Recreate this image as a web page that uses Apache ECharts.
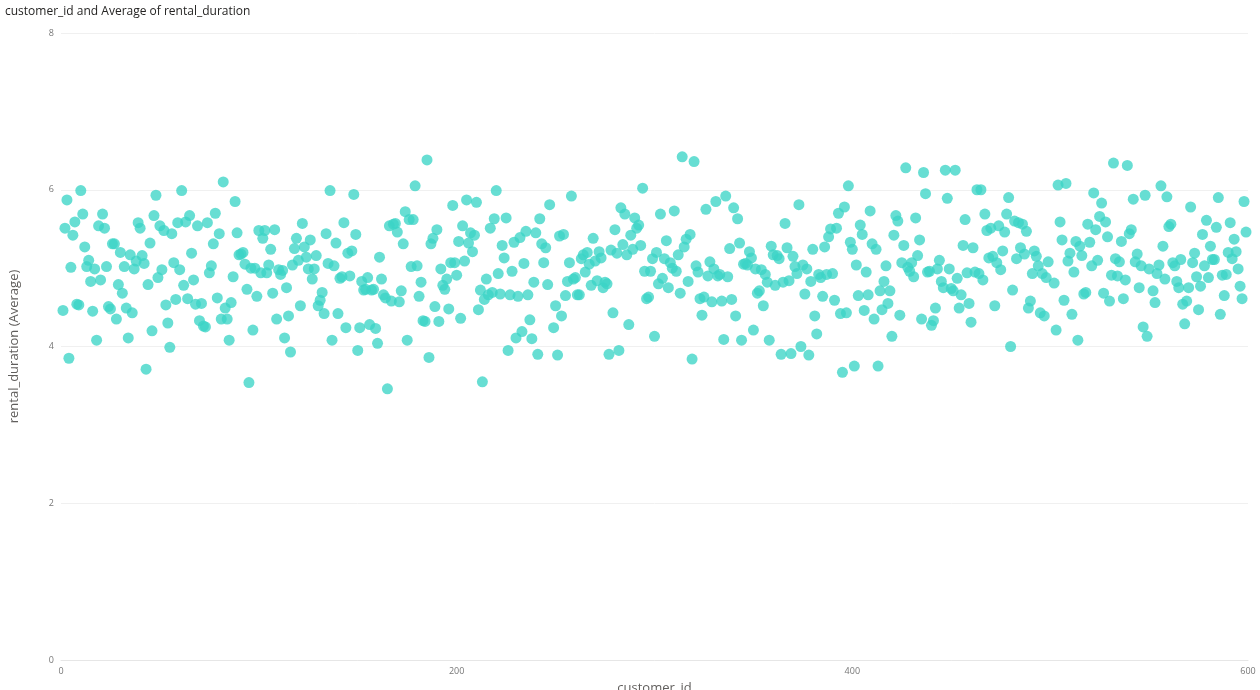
<!DOCTYPE html>
<html><head><meta charset="utf-8">
<script src="https://cdn.jsdelivr.net/npm/echarts@6/dist/echarts.min.js"></script>
<style>html,body{margin:0;padding:0;background:#fff}#c{width:1260px;height:690px}</style>
</head><body><div id="c"></div>
<script>
const chartTitle = 'customer_id and Average of rental_duration';
const xAxisName = 'customer_id';
const yAxisName = 'rental_duration (Average)';
const firstCustomerId = 1;
// Average rental_duration per customer_id (index 0 = customer 1); null = not readable
const avgRentalDuration = [
 4.46,5.51,5.87,3.85,5.01,5.42,5.59,4.54,4.53,5.99,
 5.69,5.27,5.02,5.10,4.83,4.45,4.99,4.08,5.54,4.85,
 5.69,5.51,5.02,4.51,4.48,5.31,5.31,4.35,4.79,5.20,
 4.68,5.02,4.49,4.11,5.17,4.43,4.99,5.09,5.58,5.51,
 5.16,5.06,3.71,4.79,5.32,4.20,5.67,5.93,4.88,
 5.54,4.98,5.48,4.53,4.30,3.99,5.44,5.07,4.60,5.58,
 4.98,5.99,4.78,5.59,4.61,5.67,5.19,4.85,4.54,5.54,
 4.33,4.55,4.26,4.25,5.58,4.94,5.03,5.31,5.70,4.62,
 5.44,4.35,6.10,4.49,4.35,4.08,4.56,4.89,5.85,5.45,
 5.17,5.18,5.20,5.05,4.73,3.54,5.00,4.21,
 5.00,4.64,5.48,4.94,5.38,5.48,4.94,5.04,5.24,4.68,
 5.49,4.35,4.98,4.92,4.97,4.11,4.75,4.39,3.93,5.04,
 5.25,5.38,5.10,4.52,5.57,5.27,5.14,4.99,5.36,4.86,
 4.99,5.16,4.52,4.59,4.69,4.42,5.44,5.06,5.99,4.08,
 5.03,5.32,4.42,4.87,4.89,5.58,4.24,5.19,4.90,5.22,
 5.94,
 5.43,3.95,4.24,4.83,4.72,4.73,4.88,4.28,4.72,4.73,
 4.23,4.04,5.14,4.86,4.66,4.62,3.46,5.54,4.58,5.56,
 5.57,5.46,4.57,4.71,5.31,5.72,4.08,5.62,5.02,5.62,
 6.05,5.03,4.64,4.82,4.33,4.32,6.38,3.86,5.31,5.38,
 4.51,5.49,4.32,4.99,4.78,4.73,4.86,4.48,5.07,
 5.80,5.07,4.91,5.34,4.36,5.54,5.09,5.87,5.32,5.45,
 5.21,5.42,5.84,4.47,4.72,3.55,4.60,4.86,4.66,5.51,
 4.69,5.63,5.99,4.93,4.67,5.29,5.13,5.64,3.95,4.66,
 4.96,5.33,4.11,4.64,5.39,4.19,5.06,5.47,4.66,4.34,
 4.10,4.82,5.45,3.90,5.63,5.31,5.07,5.26,4.79,5.81,
 null,
 4.24,4.52,3.89,5.41,4.39,5.43,4.65,4.83,5.07,5.92,
 4.86,4.88,4.66,4.66,5.12,5.17,4.95,5.20,5.05,4.78,
 5.38,5.09,4.84,5.21,5.13,4.75,4.82,4.80,3.90,5.23,
 4.43,5.49,5.19,3.95,5.77,5.30,5.69,5.17,4.28,5.42,
 5.24,5.64,5.51,5.55,5.29,6.02,4.96,4.61,4.63,4.96,
 5.12,4.13,5.20,4.80,5.69,4.87,5.12,5.35,4.75,5.07,
 5.00,5.73,4.96,5.17,4.68,6.42,5.27,5.37,4.83,5.43,
 3.84,6.36,5.03,4.95,4.61,4.40,4.63,5.75,4.90,5.08,
 4.57,4.99,5.85,4.90,4.92,4.58,4.09,5.92,4.89,5.25,
 4.60,5.77,4.39,5.63,5.32,4.08,5.05,5.06,5.04,5.21,
 5.13,
 4.21,4.99,4.68,4.71,4.98,4.52,4.92,4.82,4.08,5.28,
 5.17,4.78,5.16,5.12,3.90,4.82,5.57,5.26,4.84,3.91,
 5.15,5.02,4.93,5.81,4.00,5.04,4.67,4.99,3.89,4.83,
 5.24,4.39,4.16,4.92,4.88,4.64,5.27,4.92,5.40,5.50,
 4.93,4.59,5.51,5.70,4.42,3.67,5.78,4.43,6.05,5.33,
 5.24,
 3.75,5.04,4.65,5.55,5.43,4.46,4.95,4.66,5.73,5.31,
 4.35,5.24,3.75,4.71,4.47,4.83,5.03,4.55,4.71,4.13,
 5.42,5.67,5.60,4.40,5.07,5.29,6.28,5.01,4.96,5.07,
 4.89,5.64,5.16,5.36,4.35,6.22,5.95,4.95,4.96,4.27,
 4.33,4.49,4.99,5.10,4.83,4.75,6.25,5.89,4.99,4.74,
 4.71,6.25,4.87,4.49,4.66,5.29,5.62,4.94,4.55,4.31,
 5.26,4.95,6.00,4.93,6.00,4.85,5.69,5.48,5.13,5.51,
 5.15,4.52,5.07,5.54,4.98,5.22,5.46,5.69,5.90,4.00,
 4.72,5.60,5.12,5.58,5.26,5.56,5.18,5.47,4.49,4.58,
 4.93,5.22,5.15,5.03,4.43,4.93,4.39,4.88,5.08,
 null,null,
 4.81,4.21,6.06,5.59,5.36,4.59,6.08,5.09,5.19,4.41,
 4.95,5.34,4.08,5.28,5.16,4.67,4.69,5.56,5.33,5.03,
 5.96,5.49,5.10,5.66,5.83,4.68,5.59,5.40,4.58,4.91,
 6.34,5.12,4.90,5.08,5.34,4.61,4.85,6.31,5.44,5.49,
 5.88,5.08,5.18,4.75,5.03,4.25,5.93,4.13,4.99,
 null,
 4.71,4.56,4.93,5.04,6.05,5.28,4.86,5.91,5.53,5.56,
 5.07,5.03,4.83,4.75,5.11,4.54,4.29,4.58,4.75,5.78,
 5.07,5.19,4.89,4.47,4.77,5.43,5.03,5.61,4.88,5.28,
 5.11,5.11,5.52,5.90,4.41,4.91,4.65,4.92,5.20,5.58,
 5.12,5.37,5.21,4.99,4.77,4.61,5.85,5.46
];
const xMin = 0, xMax = 600, xStep = 200;
const yMin = 0, yMax = 8, yStep = 2;

const points = [];
avgRentalDuration.forEach((v, i) => { if (v !== null) points.push([firstCustomerId + i, v]); });

const chart = echarts.init(document.getElementById('c'));
const font = "'Open Sans', 'Noto Sans', sans-serif";
chart.setOption({
  animation: false,
  title: { text: chartTitle, left: 0, top: 1,
    textStyle: { fontFamily: font, fontSize: 12, fontWeight: 'normal', color: '#252423' } },
  grid: { left: 61, right: 12, top: 33, bottom: 30, containLabel: false, outerBoundsMode: 'none' },
  xAxis: {
    type: 'value', min: xMin, max: xMax, interval: xStep,
    name: xAxisName, nameLocation: 'middle', nameGap: 22,
    nameTextStyle: { fontFamily: font, fontSize: 13, color: '#605E5C' },
    axisLine: { show: true, lineStyle: { color: '#E6E6E6' } },
    axisTick: { show: false },
    axisLabel: { fontFamily: font, fontSize: 9, color: '#777', margin: 7 },
    splitLine: { show: false }
  },
  yAxis: {
    type: 'value', min: yMin, max: yMax, interval: yStep,
    name: yAxisName, nameLocation: 'middle', nameGap: 40,
    nameTextStyle: { fontFamily: font, fontSize: 13, color: '#605E5C' },
    axisLine: { show: false }, axisTick: { show: false },
    axisLabel: { fontFamily: font, fontSize: 9, color: '#777', margin: 7 },
    splitLine: { show: true, lineStyle: { color: '#F0F0F0', width: 1 } }
  },
  series: [{
    type: 'scatter', data: points, symbolSize: 11,
    itemStyle: { color: '#3CD5C7', opacity: 0.78 }
  }]
});
</script></body></html>
